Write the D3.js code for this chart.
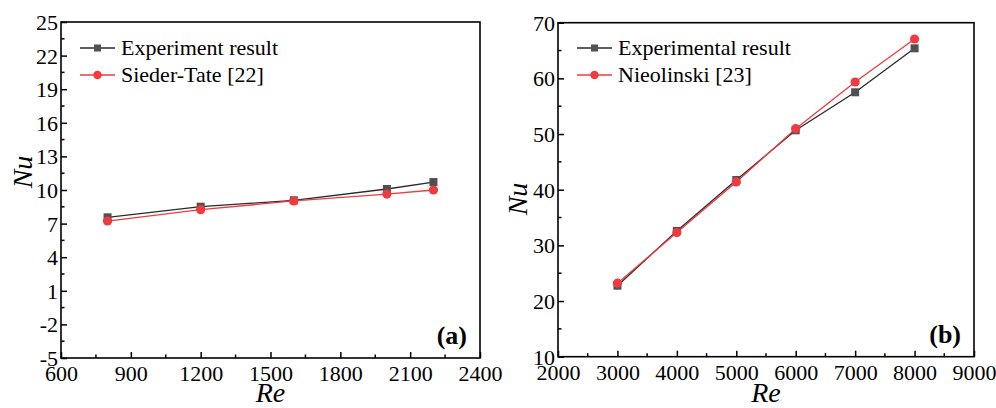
<!DOCTYPE html>
<html><head><meta charset="utf-8">
<script src="https://cdn.jsdelivr.net/npm/d3@7"></script>
<style>body{margin:0;background:#fff}svg{display:block}</style>
</head><body><svg id="c" width="996" height="408"></svg>
<script>
// Panel (a)
const reA = [800, 1200, 1600, 2000, 2200];
const expA = [7.56, 8.51, 9.08, 10.09, 10.71];
const siederTate = [7.23, 8.24, 9.02, 9.64, 10.0];
const xTicksA = [600, 900, 1200, 1500, 1800, 2100, 2400];
const yTicksA = [-5, -2, 1, 4, 7, 10, 13, 16, 19, 22, 25];
const legendA = ["Experiment result", "Sieder-Tate [22]"];
// Panel (b)
const reB = [3000, 4000, 5000, 6000, 7000, 8000];
const expB = [22.76, 32.6, 41.74, 50.67, 57.5, 65.4];
const nieolinski = [23.2, 32.3, 41.4, 50.96, 59.35, 67.07];
const xTicksB = [2000, 3000, 4000, 5000, 6000, 7000, 8000, 9000];
const yTicksB = [10, 20, 30, 40, 50, 60, 70];
const legendB = ["Experimental result", "Nieolinski [23]"];

const FONT = "Liberation Serif";
const svg = d3.select("#c");
const GRAY = "#505050", LINE_DARK = "#2a2a2a", RED = "#ef3a40";
const fmt = v => String(v); // plain hyphen minus like the reference

function panel(cfg) {
  const {x0, x1, y0, y1, xDom, yDom, xTicks, yTicks, xMinor, yMinor, xs, s1, s2, legend, tag, nuY} = cfg;
  const x = d3.scaleLinear().domain(xDom).range([x0, x1]);
  const y = d3.scaleLinear().domain(yDom).range([y1, y0]);
  const g = svg.append("g");

  const xm = d3.range(xDom[0], xDom[1] + 1e-9, xMinor).filter(v => !xTicks.includes(v));
  const ym = d3.range(yDom[0], yDom[1] + 1e-9, yMinor).filter(v => !yTicks.some(t => Math.abs(t - v) < 1e-6));

  const ax = g.append("g").attr("transform", `translate(0,${y1})`)
    .call(d3.axisBottom(x).tickValues(xTicks).tickSizeInner(-6).tickSizeOuter(0).tickPadding(8).tickFormat(fmt));
  ax.attr("font-family", FONT).attr("font-size", 22);
  ax.select(".domain").remove();
  ax.selectAll("text").attr("fill", "#000").attr("dy", null).attr("y", 23);
  ax.selectAll("line").attr("stroke", "#000").attr("stroke-width", 1.5);
  g.append("g").selectAll("line").data(xm).join("line")
    .attr("x1", d => x(d)).attr("x2", d => x(d)).attr("y1", y1).attr("y2", y1 - 3.5)
    .attr("stroke", "#000").attr("stroke-width", 1.5);

  const ay = g.append("g").attr("transform", `translate(${x0},0)`)
    .call(d3.axisLeft(y).tickValues(yTicks).tickSizeInner(-6).tickSizeOuter(0).tickPadding(8).tickFormat(fmt));
  ay.attr("font-family", FONT).attr("font-size", 22);
  ay.select(".domain").remove();
  ay.selectAll("text").attr("fill", "#000").attr("x", -3).attr("dy", "0.34em");
  ay.selectAll("line").attr("stroke", "#000").attr("stroke-width", 1.5);
  g.append("g").selectAll("line").data(ym).join("line")
    .attr("y1", d => y(d)).attr("y2", d => y(d)).attr("x1", x0).attr("x2", x0 + 3.5)
    .attr("stroke", "#000").attr("stroke-width", 1.5);

  g.append("rect").attr("x", x0).attr("y", y0).attr("width", x1 - x0).attr("height", y1 - y0)
    .attr("fill", "none").attr("stroke", "#000").attr("stroke-width", 1.6);

  const line = d3.line().x((d, i) => x(xs[i])).y(d => y(d));
  g.append("path").datum(s1).attr("d", line).attr("fill", "none").attr("stroke", LINE_DARK).attr("stroke-width", 1.3);
  g.append("path").datum(s2).attr("d", line).attr("fill", "none").attr("stroke", RED).attr("stroke-width", 1.3);
  g.append("g").selectAll("rect").data(s1).join("rect")
    .attr("x", (d, i) => x(xs[i]) - 4).attr("y", d => y(d) - 4).attr("width", 8).attr("height", 8).attr("fill", GRAY);
  g.append("g").selectAll("circle").data(s2).join("circle")
    .attr("cx", (d, i) => x(xs[i])).attr("cy", d => y(d)).attr("r", 4.6).attr("fill", RED);

  // legend
  const lx = cfg.legX, ly = [48, 75];
  g.append("line").attr("x1", lx).attr("x2", lx + 35).attr("y1", ly[0]).attr("y2", ly[0]).attr("stroke", LINE_DARK).attr("stroke-width", 1.3);
  g.append("rect").attr("x", lx + 17.5 - 3.5).attr("y", ly[0] - 3.5).attr("width", 7).attr("height", 7).attr("fill", GRAY);
  g.append("line").attr("x1", lx).attr("x2", lx + 35).attr("y1", ly[1]).attr("y2", ly[1]).attr("stroke", RED).attr("stroke-width", 1.3);
  g.append("circle").attr("cx", lx + 17.5).attr("cy", ly[1]).attr("r", 4.2).attr("fill", RED);
  legend.forEach((t, i) => g.append("text").attr("x", lx + 41).attr("y", ly[i] + 7)
    .attr("font-family", FONT).attr("font-size", 22).attr("fill", "#000").text(t));

  // tag
  g.append("text").attr("x", x1 - 13).attr("y", y1 - 14).attr("text-anchor", "end")
    .attr("font-family", FONT).attr("font-size", 26).attr("font-weight", "bold").attr("fill", "#000").text(tag);

  // axis titles
  g.append("text").attr("x", (x0 + x1) / 2).attr("y", 402).attr("text-anchor", "middle")
    .attr("font-family", FONT).attr("font-size", 28).attr("font-style", "italic").attr("fill", "#000").text("Re");
  g.append("text").attr("transform", `translate(${cfg.nuX},${nuY}) rotate(-90)`).attr("text-anchor", "middle")
    .attr("font-family", FONT).attr("font-size", 28).attr("font-style", "italic").attr("fill", "#000").text("Nu");
}

panel({x0: 61, x1: 480, y0: 22, y1: 358, xDom: [600, 2400], yDom: [-5, 25],
  xTicks: xTicksA, yTicks: yTicksA, xMinor: 150, yMinor: 1.5, xs: reA, s1: expA, s2: siederTate,
  legend: legendA, tag: "(a)", legX: 80, nuX: 32, nuY: 172});
panel({x0: 558, x1: 974, y0: 22.7, y1: 356.7, xDom: [2000, 9000], yDom: [10, 70],
  xTicks: xTicksB, yTicks: yTicksB, xMinor: 500, yMinor: 5, xs: reB, s1: expB, s2: nieolinski,
  legend: legendB, tag: "(b)", legX: 577, nuX: 527, nuY: 199});
</script></body></html>
